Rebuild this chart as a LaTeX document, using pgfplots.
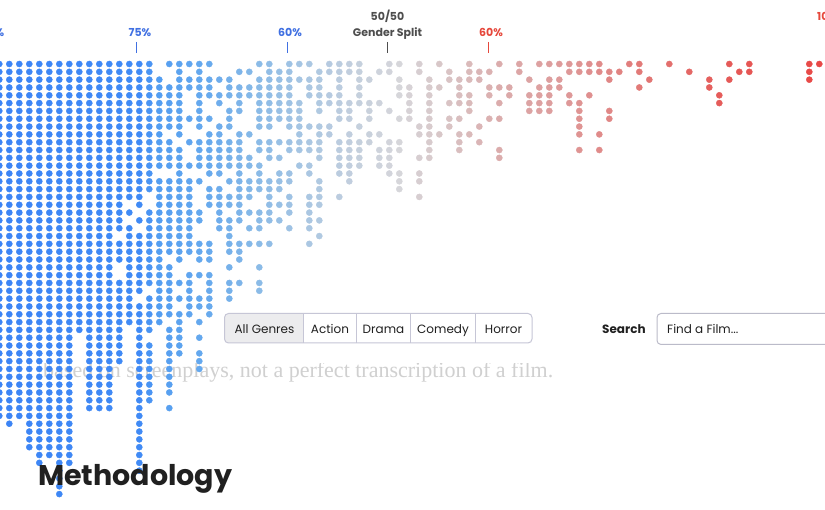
\documentclass[border=0pt]{standalone}
\usepackage{pgfplots}
\pgfplotsset{compat=1.18}
\usepackage{fontspec}
\setmainfont{Poppins}
\newfontfamily\serifface{Liberation Serif}
\definecolor{lblue}{RGB}{64,112,226}
\definecolor{lred}{RGB}{230,72,60}
\definecolor{lgrey}{RGB}{78,78,78}
\definecolor{btnborder}{RGB}{198,198,214}
\definecolor{btnfill}{RGB}{236,236,238}
\definecolor{faint}{RGB}{208,208,208}
\definecolor{ink}{RGB}{32,32,32}
\begin{document}
\begin{tikzpicture}[x=1pt,y=1pt]
\useasboundingbox (0,0) rectangle (825,510);
\clip (0,0) rectangle (825,510);
\fill[white] (0,0) rectangle (825,510);
\begin{scope}
\clip (0,0) rectangle (825,146.5);
\node[anchor=base west, inner sep=0, text=faint, font=\serifface\fontsize{22}{26}\selectfont] at (43,132.5) {based on screenplays, not a perfect transcription of a film.};
\end{scope}
\begin{axis}[at={(0,0)}, anchor=south west, width=825pt, height=510pt, scale only axis,
  xmin=-0.93, xmax=81.57, ymin=-8.184, ymax=57.033, y dir=reverse, hide axis, clip=false,
  colormap={gs}{rgb255(0pt)=(60,132,245) rgb255(14pt)=(64,138,245) rgb255(16pt)=(84,158,241)
   rgb255(21pt)=(104,170,237) rgb255(25pt)=(132,184,232) rgb255(30pt)=(165,197,227)
   rgb255(35pt)=(193,206,222) rgb255(40pt)=(214,214,218) rgb255(45pt)=(217,195,196)
   rgb255(50pt)=(219,172,172) rgb255(57pt)=(222,152,152) rgb255(64pt)=(226,122,120)
   rgb255(72pt)=(229,92,90) rgb255(82pt)=(232,72,70)},
  point meta min=-1, point meta max=81]
\addplot[scatter, only marks, mark=*, mark size=3.05pt, scatter src=x,
  scatter/use mapped color={draw=mapped color, fill=mapped color}] coordinates {
(-1,0)(-1,1)(-1,2)(-1,3)(-1,4)(-1,5)(-1,6)(-1,7)(-1,8)(-1,9)(-1,10)(-1,11)(-1,12)(-1,13)(-1,14)(-1,15)(-1,16)(-1,17)(-1,18)(-1,19)(-1,20)(-1,21)(-1,22)(-1,23)(-1,24)(-1,25)(-1,26)(-1,27)(-1,28)(-1,29)(-1,30)(-1,31)(-1,32)(-1,33)(-1,34)(-1,35)(-1,36)(-1,37)(-1,38)(-1,39)(-1,40)(-1,41)(-1,42)(-1,43)(-1,44)(-1,45)
(0,0)(0,1)(0,2)(0,3)(0,4)(0,5)(0,6)(0,7)(0,8)(0,9)(0,10)(0,11)(0,12)(0,13)(0,14)(0,15)(0,16)(0,17)(0,18)(0,19)(0,20)(0,21)(0,22)(0,23)(0,24)(0,25)(0,26)(0,27)(0,28)(0,29)(0,30)(0,31)(0,32)(0,33)(0,34)(0,35)(0,36)(0,37)(0,38)(0,39)(0,40)(0,41)(0,42)(0,43)(0,44)(0,45)(0,46)
(1,0)(1,1)(1,2)(1,3)(1,4)(1,5)(1,6)(1,7)(1,8)(1,9)(1,10)(1,11)(1,12)(1,13)(1,14)(1,15)(1,16)(1,17)(1,18)(1,19)(1,20)(1,21)(1,22)(1,23)(1,24)(1,25)(1,26)(1,27)(1,28)(1,29)(1,30)(1,31)(1,32)(1,33)(1,34)(1,35)(1,36)(1,37)(1,38)(1,39)(1,40)(1,41)(1,42)(1,43)(1,44)(1,45)
(2,0)(2,1)(2,2)(2,3)(2,4)(2,5)(2,6)(2,7)(2,8)(2,9)(2,10)(2,11)(2,12)(2,13)(2,14)(2,15)(2,16)(2,17)(2,18)(2,19)(2,20)(2,21)(2,22)(2,23)(2,24)(2,25)(2,26)(2,27)(2,28)(2,29)(2,30)(2,31)(2,32)(2,33)(2,34)(2,35)(2,36)(2,37)(2,38)(2,39)(2,40)(2,41)(2,42)(2,43)(2,44)(2,45)(2,46)(2,47)(2,48)(2,49)
(3,0)(3,1)(3,2)(3,3)(3,4)(3,5)(3,6)(3,7)(3,8)(3,9)(3,10)(3,11)(3,12)(3,13)(3,14)(3,15)(3,16)(3,17)(3,18)(3,19)(3,20)(3,21)(3,22)(3,23)(3,24)(3,25)(3,26)(3,27)(3,28)(3,29)(3,30)(3,31)(3,32)(3,33)(3,34)(3,35)(3,36)(3,37)(3,38)(3,39)(3,40)(3,41)(3,42)(3,43)(3,44)(3,45)(3,46)(3,47)(3,48)(3,49)(3,50)(3,51)
(4,0)(4,1)(4,2)(4,3)(4,4)(4,5)(4,6)(4,7)(4,8)(4,9)(4,10)(4,11)(4,12)(4,13)(4,14)(4,15)(4,16)(4,17)(4,18)(4,19)(4,20)(4,21)(4,22)(4,23)(4,24)(4,25)(4,26)(4,27)(4,28)(4,29)(4,30)(4,31)(4,32)(4,33)(4,34)(4,35)(4,36)(4,37)(4,38)(4,39)(4,40)(4,41)(4,42)(4,43)(4,44)(4,45)(4,46)(4,47)(4,48)(4,49)(4,50)
(5,0)(5,1)(5,2)(5,3)(5,4)(5,5)(5,6)(5,7)(5,8)(5,9)(5,10)(5,11)(5,12)(5,13)(5,14)(5,15)(5,16)(5,17)(5,18)(5,19)(5,20)(5,21)(5,22)(5,23)(5,24)(5,25)(5,26)(5,27)(5,28)(5,29)(5,30)(5,31)(5,32)(5,33)(5,34)(5,35)(5,36)(5,37)(5,38)(5,39)(5,40)(5,41)(5,42)(5,43)(5,44)(5,45)(5,46)(5,47)(5,48)(5,49)(5,50)(5,51)(5,52)(5,53)(5,54)(5,55)
(6,0)(6,1)(6,2)(6,3)(6,4)(6,5)(6,6)(6,7)(6,8)(6,9)(6,10)(6,11)(6,12)(6,13)(6,14)(6,15)(6,16)(6,17)(6,18)(6,19)(6,20)(6,21)(6,22)(6,23)(6,24)(6,25)(6,26)(6,27)(6,28)(6,29)(6,30)(6,31)(6,32)(6,33)(6,34)(6,35)(6,36)(6,37)(6,38)(6,39)(6,40)(6,41)(6,42)(6,43)(6,44)(6,45)(6,46)(6,47)(6,48)(6,49)(6,50)(6,51)
(7,0)(7,1)(7,2)(7,3)(7,4)(7,5)(7,6)(7,7)(7,8)(7,9)(7,10)(7,11)(7,12)(7,13)(7,14)(7,15)(7,16)(7,17)(7,18)(7,19)(7,20)(7,21)(7,22)(7,23)(7,24)(7,25)(7,26)(7,27)(7,28)(7,29)(7,30)(7,31)(7,32)(7,33)(7,34)
(8,0)(8,1)(8,2)(8,3)(8,4)(8,5)(8,6)(8,7)(8,8)(8,9)(8,10)(8,11)(8,12)(8,13)(8,14)(8,15)(8,16)(8,17)(8,18)(8,19)(8,20)(8,21)(8,22)(8,23)(8,24)(8,25)(8,26)(8,27)(8,28)(8,29)(8,30)(8,31)(8,32)(8,33)(8,34)(8,35)(8,36)(8,37)(8,38)(8,39)(8,40)(8,41)(8,42)(8,43)(8,44)
(9,0)(9,1)(9,2)(9,3)(9,4)(9,5)(9,6)(9,7)(9,8)(9,9)(9,10)(9,11)(9,12)(9,13)(9,14)(9,15)(9,16)(9,17)(9,18)(9,19)(9,20)(9,21)(9,22)(9,23)(9,24)(9,25)(9,26)(9,27)(9,28)(9,29)(9,30)(9,31)(9,32)(9,33)(9,34)(9,35)(9,36)(9,37)(9,38)(9,39)(9,40)(9,41)(9,42)(9,43)(9,44)
(10,0)(10,1)(10,2)(10,3)(10,4)(10,5)(10,6)(10,7)(10,8)(10,9)(10,10)(10,11)(10,12)(10,13)(10,14)(10,15)(10,16)(10,17)(10,18)(10,19)(10,20)(10,21)(10,22)(10,23)(10,24)(10,25)(10,26)(10,27)(10,28)(10,29)(10,30)(10,31)(10,32)(10,33)(10,34)(10,35)(10,36)(10,37)(10,38)(10,39)(10,40)(10,41)(10,42)(10,43)(10,44)
(11,0)(11,1)(11,2)(11,3)(11,4)(11,5)(11,6)(11,7)(11,8)(11,9)(11,10)(11,11)(11,12)(11,13)(11,14)(11,15)(11,16)(11,17)(11,18)(11,19)(11,20)(11,21)(11,23)(11,24)(11,25)(11,28)(11,29)(11,30)(11,31)(11,32)(11,33)(11,34)(11,35)(11,36)(11,37)(11,38)
(12,0)(12,1)(12,2)(12,3)(12,4)(12,5)(12,6)(12,7)(12,8)(12,9)(12,10)(12,11)(12,12)(12,13)(12,14)(12,15)(12,16)(12,17)(12,19)(12,21)(12,22)(12,23)(12,24)(12,25)(12,26)(12,27)(12,28)(12,29)(12,30)(12,31)(12,32)(12,33)
(13,0)(13,1)(13,2)(13,3)(13,4)(13,5)(13,6)(13,7)(13,8)(13,9)(13,10)(13,11)(13,12)(13,13)(13,14)(13,15)(13,16)(13,17)(13,18)(13,20)(13,22)(13,23)(13,24)(13,25)(13,26)(13,27)(13,28)(13,29)(13,31)(13,32)(13,33)(13,34)(13,35)(13,36)(13,37)(13,38)(13,39)(13,40)(13,41)(13,42)(13,43)(13,44)(13,45)(13,46)(13,47)(13,48)(13,49)(13,50)(13,51)(13,52)
(14,0)(14,1)(14,2)(14,3)(14,4)(14,5)(14,6)(14,7)(14,8)(14,9)(14,10)(14,11)(14,12)(14,13)(14,14)(14,15)(14,16)(14,19)(14,20)(14,21)(14,22)(14,23)(14,24)(14,25)(14,26)(14,27)(14,28)(14,30)(14,31)(14,32)(14,33)(14,34)(14,36)(14,37)(14,38)(14,39)(14,40)(14,41)(14,42)(14,43)
(15,2)(15,3)(15,4)(15,5)(15,6)(15,7)(15,8)(15,9)(15,10)(15,11)(15,12)(15,13)(15,15)(15,16)(15,17)(15,18)(15,19)(15,20)(15,21)(15,22)(15,23)(15,24)(15,25)(15,26)(15,27)(15,28)(15,29)(15,30)(15,31)(15,32)(15,33)
(16,0)(16,3)(16,4)(16,5)(16,6)(16,7)(16,8)(16,10)(16,11)(16,12)(16,13)(16,15)(16,16)(16,17)(16,18)(16,19)(16,20)(16,21)(16,22)(16,23)(16,24)(16,26)(16,27)(16,28)(16,29)(16,30)(16,31)(16,32)(16,34)(16,35)(16,36)(16,37)(16,38)(16,39)(16,40)(16,41)(16,42)(16,44)
(17,0)(17,1)(17,2)(17,3)(17,4)(17,5)(17,6)(17,7)(17,8)(17,9)(17,11)(17,12)(17,13)(17,14)(17,15)(17,16)(17,17)(17,18)(17,19)(17,20)(17,21)(17,22)(17,23)(17,24)(17,25)(17,28)(17,30)(17,32)(17,33)(17,34)(17,35)(17,36)(17,37)
(18,0)(18,2)(18,3)(18,7)(18,10)(18,13)(18,15)(18,16)(18,17)(18,18)(18,19)(18,20)(18,21)(18,22)(18,23)(18,24)(18,27)(18,28)(18,29)(18,30)(18,31)(18,32)
(19,0)(19,1)(19,2)(19,3)(19,4)(19,5)(19,6)(19,7)(19,8)(19,10)(19,11)(19,12)(19,13)(19,15)(19,19)(19,20)(19,23)(19,24)(19,25)(19,27)(19,30)(19,31)(19,33)(19,35)(19,37)(19,38)(19,39)
(20,0)(20,2)(20,3)(20,4)(20,7)(20,9)(20,10)(20,11)(20,12)(20,13)(20,14)(20,16)(20,17)(20,18)(20,23)(20,24)(20,25)(20,27)(20,28)(20,29)(20,30)(20,31)(20,32)
(21,2)(21,4)(21,5)(21,8)(21,9)(21,10)(21,11)(21,12)(21,13)(21,14)(21,16)(21,17)(21,18)(21,19)(21,20)(21,21)
(22,2)(22,3)(22,4)(22,6)(22,7)(22,8)(22,10)(22,11)(22,12)(22,13)(22,15)(22,17)(22,18)(22,20)(22,21)(22,22)(22,23)(22,24)(22,26)(22,28)(22,29)(22,30)
(23,1)(23,3)(23,4)(23,5)(23,6)(23,9)(23,10)(23,11)(23,12)(23,13)(23,14)(23,15)(23,16)(23,17)(23,18)(23,19)(23,20)(23,23)(23,24)(23,25)(23,28)
(24,1)(24,3)(24,4)(24,9)(24,12)(24,13)(24,15)(24,16)(24,17)(24,19)(24,21)(24,23)
(25,0)(25,2)(25,3)(25,4)(25,5)(25,6)(25,7)(25,8)(25,10)(25,11)(25,13)(25,14)(25,15)(25,16)(25,19)(25,20)(25,21)(25,23)(25,26)(25,28)(25,29)
(26,0)(26,1)(26,2)(26,3)(26,4)(26,5)(26,6)(26,7)(26,8)(26,10)(26,11)(26,12)(26,15)(26,16)(26,17)(26,18)(26,19)(26,20)(26,23)
(27,1)(27,2)(27,3)(27,4)(27,5)(27,6)(27,7)(27,10)(27,12)(27,14)(27,15)(27,16)(27,18)(27,20)
(28,0)(28,1)(28,2)(28,3)(28,4)(28,5)(28,6)(28,7)(28,8)(28,10)(28,11)(28,14)(28,15)(28,17)(28,18)(28,19)(28,21)
(29,0)(29,2)(29,5)(29,6)(29,7)(29,8)(29,9)(29,10)(29,11)(29,13)
(30,0)(30,2)(30,3)(30,4)(30,8)(30,10)(30,11)(30,13)(30,14)(30,17)(30,18)(30,19)(30,20)(30,21)(30,23)
(31,1)(31,2)(31,3)(31,4)(31,5)(31,6)(31,8)(31,9)(31,10)(31,11)(31,12)(31,15)(31,16)(31,17)(31,18)(31,20)(31,22)
(32,0)(32,1)(32,4)(32,5)(32,8)(32,9)
(33,0)(33,1)(33,2)(33,3)(33,4)(33,5)(33,6)(33,7)(33,10)(33,11)(33,12)(33,13)(33,14)(33,17)
(34,0)(34,1)(34,5)(34,6)(34,7)(34,9)(34,10)(34,11)(34,12)(34,13)(34,14)(34,15)
(35,0)(35,1)(35,2)(35,3)(35,4)(35,5)(35,8)(35,10)(35,11)(35,12)(35,13)
(36,2)(36,5)(36,6)(36,7)(36,9)(36,10)
(37,1)(37,5)(37,9)(37,11)(37,12)(37,13)
(38,0)(38,1)(38,6)(38,10)(38,11)(38,12)(38,13)(38,14)
(39,0)(39,2)(39,3)(39,4)(39,7)(39,10)(39,11)(39,14)(39,15)(39,16)
(40,3)(40,4)(40,5)(40,6)(40,7)
(41,0)(41,1)(41,8)(41,9)(41,12)(41,14)(41,15)(41,17)
(42,2)(42,3)(42,4)(42,5)(42,6)(42,7)(42,8)(42,9)(42,10)(42,11)(42,12)
(43,0)(43,3)(43,9)
(44,1)(44,2)(44,5)(44,7)(44,8)
(45,2)(45,3)(45,4)(45,5)(45,7)(45,9)(45,10)(45,11)
(46,0)(46,1)(46,2)(46,4)(46,5)(46,6)(46,9)
(47,1)(47,2)(47,8)(47,10)
(48,1)(48,3)(48,4)(48,7)
(49,0)(49,3)(49,5)(49,7)(49,11)(49,12)
(50,3)(50,4)
(51,0)(51,1)
(52,2)(52,4)(52,5)(52,6)
(53,0)(53,3)(53,4)(53,5)(53,6)
(54,0)(54,2)(54,3)(54,4)(54,5)(54,6)
(55,0)(55,2)(55,3)
(56,0)(56,1)(56,4)(56,5)
(57,0)(57,1)(57,5)(57,6)(57,7)(57,8)(57,9)(57,11)
(58,0)(58,1)(58,4)
(59,0)(59,1)(59,9)(59,11)
(60,1)(60,2)(60,6)(60,7)
(61,1)
(62,0)
(63,0)(63,1)(63,3)
(64,2)
(66,0)
(68,1)
(70,2)(70,3)
(71,4)(71,5)
(72,0)(72,2)
(73,1)
(74,0)(74,1)
(80,0)(80,1)(80,2)
(81,0)
};
\end{axis}
% ticks and scale labels
\draw[lblue, line width=1pt] (136.7,468) -- (136.7,457);
\draw[lblue, line width=1pt] (287.3,468) -- (287.3,457);
\draw[lgrey, line width=1pt] (387.3,468) -- (387.3,457);
\draw[lred, line width=1pt] (488,468) -- (488,457);
\begin{scope}[every node/.style={inner sep=0, font=\bfseries\fontsize{11}{13}\selectfont}]
\node[anchor=base east, text=lblue] at (4.5,473.3) {90\%};
\node[anchor=base, text=lblue] at (140,473.3) {75\%};
\node[anchor=base, text=lblue] at (290,473.3) {60\%};
\node[anchor=base, text=lgrey] at (387.5,489.3) {50/50};
\node[anchor=base, text=lgrey] at (387.5,473.3) {Gender Split};
\node[anchor=base, text=lred] at (491,473.3) {60\%};
\node[anchor=base west, text=lred] at (817,489.3) {100\%};
\end{scope}
% genre buttons
\begin{scope}
\clip[rounded corners=4pt] (224.5,167) rectangle (532,196.5);
\fill[btnfill] (224.5,167) rectangle (303.5,196.5);
\end{scope}
\draw[btnborder, line width=1pt, rounded corners=4pt] (224.5,167) rectangle (532,196.5);
\foreach \xx in {303.5,356,410.5,475.5} \draw[btnborder, line width=1pt] (\xx,167) -- (\xx,196.5);
\begin{scope}[every node/.style={inner sep=0, anchor=base, text=ink, font=\fontsize{12}{14}\selectfont}]
\node at (264.5,176.7) {All Genres};
\node at (330,176.7) {Action};
\node at (383.5,176.7) {Drama};
\node at (443,176.7) {Comedy};
\node at (503.5,176.7) {Horror};
\end{scope}
% search
\node[inner sep=0, anchor=base west, text=ink, font=\bfseries\fontsize{12}{14}\selectfont] at (602,176.7) {Search};
\draw[btnborder!85!gray, line width=1pt, rounded corners=4pt] (657,165.5) rectangle (840,196.5);
\node[inner sep=0, anchor=base west, text=ink, font=\fontsize{12}{14}\selectfont] at (667,176.7) {Find a Film...};
% heading
\node[inner sep=0, anchor=base west, text=ink, font=\bfseries\fontsize{28.5}{32}\selectfont] at (38,24) {Methodology};
\end{tikzpicture}
\end{document}
